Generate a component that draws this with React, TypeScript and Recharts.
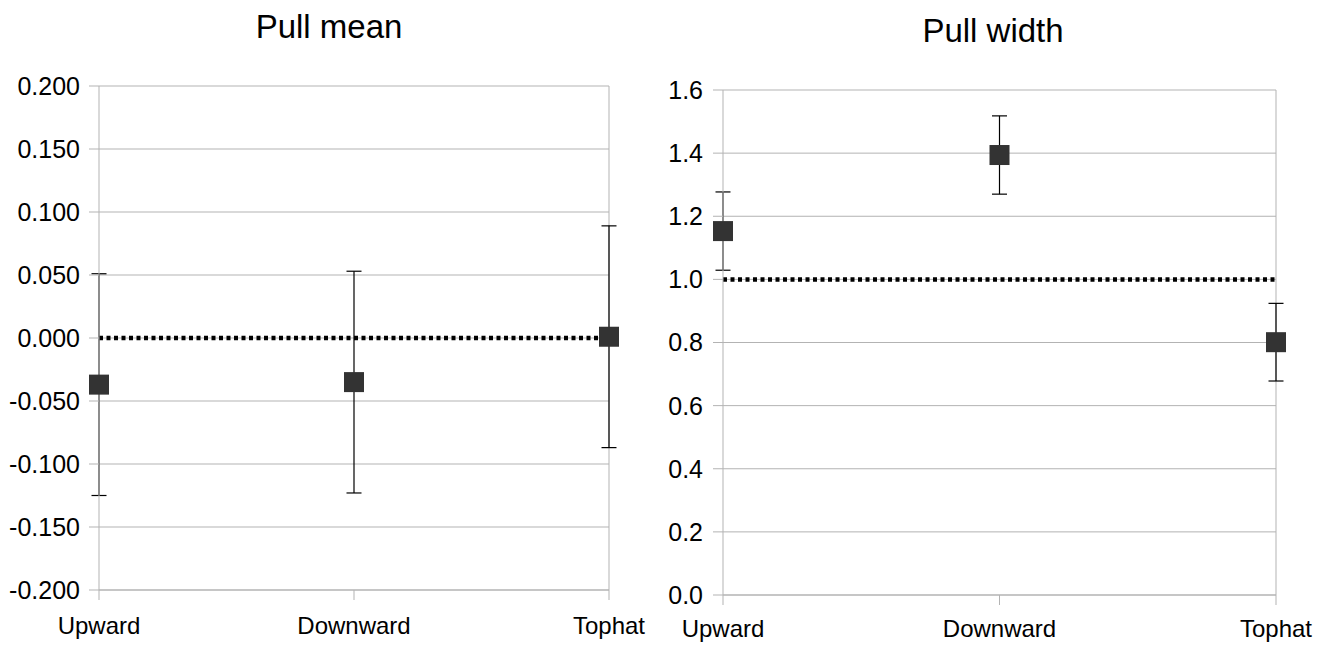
import { LineChart, Line, XAxis, YAxis, CartesianGrid, ReferenceLine, ErrorBar } from "recharts";

const categories = ["Upward", "Downward", "Tophat"];

// pull mean, with symmetric errors
const meanValues = [-0.037, -0.035, 0.001];
const meanErrors = [0.088, 0.088, 0.088];
const meanTicks = [-0.2, -0.15, -0.1, -0.05, 0, 0.05, 0.1, 0.15, 0.2];

// pull width
const widthValues = [1.153, 1.394, 0.801];
const widthErrors = [0.124, 0.124, 0.123];
const widthTicks = [0, 0.2, 0.4, 0.6, 0.8, 1.0, 1.2, 1.4, 1.6];

const meanData = categories.map((name, i) => ({ name, v: meanValues[i], err: meanErrors[i] }));
const widthData = categories.map((name, i) => ({ name, v: widthValues[i], err: widthErrors[i] }));

const GRID = "#b3b3b3";
const FONT = "'Liberation Sans', Arial, sans-serif";

const Square = (props: any) => {
  const { cx, cy, index } = props;
  if (cx == null || cy == null) return <g key={index} />;
  return <rect key={index} x={cx - 10} y={cy - 10} width={20} height={20} fill="#333333" />;
};

type PanelProps = {
  data: { name: string; v: number; err: number }[];
  ticks: number[];
  digits: number;
  refY: number;
  yWidth: number;
  xHeight: number;
  top: number;
  right: number;
  xMargin: number;
  yMargin: number;
};

function Panel(p: PanelProps) {
  const lo = p.ticks[0];
  const hi = p.ticks[p.ticks.length - 1];
  return (
    <LineChart
      width={668}
      height={648}
      data={p.data}
      margin={{ top: p.top, right: p.right, bottom: 0, left: 0 }}
    >
      <CartesianGrid vertical={false} stroke={GRID} />
      <XAxis
        dataKey="name"
        scale="point"
        padding={{ left: 0, right: 0 }}
        interval={0}
        height={p.xHeight}
        tickSize={10}
        tickMargin={p.xMargin}
        axisLine={{ stroke: GRID }}
        tickLine={{ stroke: GRID }}
        tick={{ fill: "#000", fontSize: 24, fontFamily: FONT }}
      />
      <YAxis
        type="number"
        domain={[lo, hi]}
        ticks={p.ticks}
        interval={0}
        width={p.yWidth}
        tickSize={10}
        tickMargin={p.yMargin}
        tickFormatter={(t: number) => t.toFixed(p.digits)}
        axisLine={{ stroke: GRID }}
        tickLine={{ stroke: GRID }}
        tick={{ fill: "#000", fontSize: 25, fontFamily: FONT }}
      />
      <ReferenceLine x="Tophat" stroke={GRID} />
      <ReferenceLine y={p.refY} stroke="#000" strokeWidth={4.5} strokeDasharray="4 3.5" />
      <Line dataKey="v" stroke="none" dot={<Square />} activeDot={false} isAnimationActive={false} />
      <Line dataKey="v" stroke="none" dot={false} activeDot={false} isAnimationActive={false}>
        <ErrorBar dataKey="err" width={7.5} stroke="#000" strokeWidth={1.2} />
      </Line>
    </LineChart>
  );
}

const titleStyle = {
  position: "absolute" as const,
  fontFamily: FONT,
  fontSize: 33,
  lineHeight: "33px",
  color: "#000",
  textAlign: "center" as const,
  whiteSpace: "nowrap" as const,
};

export default function App() {
  return (
    <div style={{ position: "absolute", left: 0, top: 0, width: 1336, height: 648, background: "#fff", fontFamily: FONT }}>
      <div style={{ ...titleStyle, left: 129, width: 400, top: 10 }}>Pull mean</div>
      <div style={{ ...titleStyle, left: 793, width: 400, top: 14 }}>Pull width</div>
      <div style={{ position: "absolute", left: 0, top: 0 }}>
        <Panel data={meanData} ticks={meanTicks} digits={3} refY={0} yWidth={99} xHeight={58} top={86} right={59} xMargin={17} yMargin={9} />
      </div>
      <div style={{ position: "absolute", left: 668, top: 0 }}>
        <Panel data={widthData} ticks={widthTicks} digits={1} refY={1} yWidth={55} xHeight={53} top={90} right={60} xMargin={15} yMargin={10} />
      </div>
    </div>
  );
}
